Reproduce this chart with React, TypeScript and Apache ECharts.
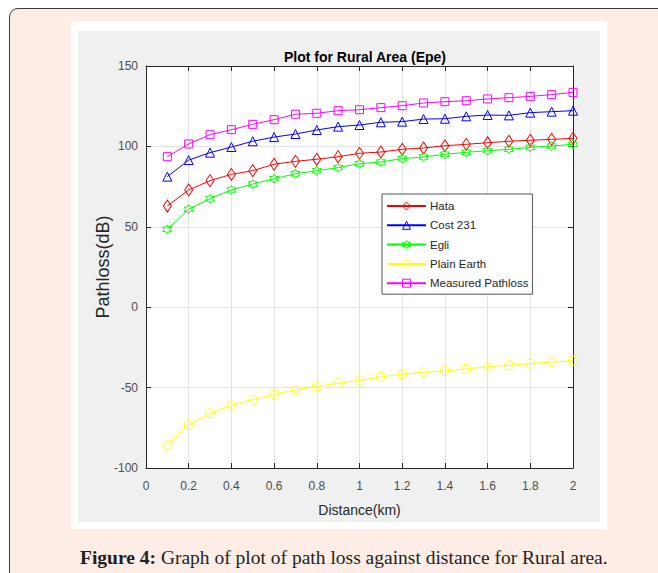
import React, { useEffect, useRef } from "react";
import * as echarts from "echarts";

const distances = [0.1, 0.2, 0.3, 0.4, 0.5, 0.6, 0.7, 0.8, 0.9, 1.0, 1.1, 1.2, 1.3, 1.4, 1.5, 1.6, 1.7, 1.8, 1.9, 2.0];
const hata = [62.9, 72.9, 78.7, 82.6, 84.9, 88.9, 90.7, 92.0, 93.6, 95.7, 96.5, 98.2, 99.0, 100.4, 101.3, 102.3, 103.2, 103.8, 104.4, 105.0];
const cost231 = [81.2, 91.5, 96.1, 99.6, 103.2, 105.8, 107.7, 110.2, 112.3, 113.3, 115.0, 115.4, 117.0, 117.2, 118.7, 119.5, 119.3, 121.0, 121.6, 122.2];
const egli = [48.4, 60.9, 67.5, 72.9, 76.6, 79.9, 83.0, 84.9, 86.8, 89.2, 90.3, 92.4, 93.4, 95.1, 96.3, 97.3, 98.2, 99.4, 100.2, 101.3];
const plainEarth = [-85.9, -73.3, -66.0, -61.0, -57.5, -54.2, -51.5, -49.2, -47.3, -45.5, -43.4, -41.7, -40.5, -39.7, -38.4, -37.0, -36.1, -35.1, -34.1, -33.3];
const measured = [93.6, 101.5, 107.3, 110.4, 113.7, 116.6, 120.0, 120.6, 122.2, 122.8, 124.1, 125.3, 127.0, 127.8, 128.4, 129.5, 130.3, 131.1, 132.2, 133.6];

const seriesNames = ["Hata", "Cost 231", "Egli", "Plain Earth", "Measured Pathloss"];
const seriesValues = [hata, cost231, egli, plainEarth, measured];
const seriesColors = ["#ff0000", "#0000ff", "#00ff00", "#ffff00", "#ff00ff"];
const hexagram = "path://M10 0L12.89 5L18.66 5L15.77 10L18.66 15L12.89 15L10 20L7.11 15L1.34 15L4.23 10L1.34 5L7.11 5Z";
const seriesSymbols = ["diamond", "triangle", hexagram, "circle", "rect"];
const seriesSymbolSizes: any[] = [[8, 12], [9, 9], [9, 9], [9, 9], [8, 8]];

const title = "Plot for Rural Area (Epe)";
const xName = "Distance(km)";
const yName = "Pathloss(dB)";
const caption = "Graph of plot of path loss against distance for Rural area.";

const FONT = "'Liberation Sans', Arial, sans-serif";

export default function App() {
  const ref = useRef<HTMLDivElement>(null);
  useEffect(() => {
    if (!ref.current) return;
    const chart = echarts.init(ref.current, null, { renderer: "svg" });
    const axisCommon = {
      type: "value" as const,
      axisLine: { show: true, onZero: false, lineStyle: { color: "#262626", width: 1 } },
      axisTick: { show: true, inside: true, length: 5, lineStyle: { color: "#262626" } },
    };
    chart.setOption({
      animation: false,
      backgroundColor: "transparent",
      title: {
        text: title,
        left: 360,
        textAlign: "center",
        top: 45,
        textStyle: { fontFamily: FONT, fontSize: 14, fontWeight: "bold", color: "#000" },
      },
      grid: {
        left: 146,
        top: 66,
        width: 427,
        height: 402,
        show: true,
        backgroundColor: "#ffffff",
        borderWidth: 0,
      },
      legend: {
        orient: "vertical",
        left: 382,
        top: 194,
        backgroundColor: "#ffffff",
        borderColor: "#555555",
        borderWidth: 1,
        borderRadius: 0,
        padding: [5, 4, 4, 4],
        itemWidth: 39,
        itemHeight: 10,
        itemGap: 5.3,
        data: seriesNames.map((name, i) => ({
          name,
          itemStyle: { color: "rgba(255,255,255,0)", borderColor: seriesColors[i], borderWidth: 1 },
        })),
        textStyle: { fontFamily: FONT, fontSize: 11.5, lineHeight: 14, color: "#262626", padding: [0, 0, 0, -1] },
      },
      xAxis: [
        {
          ...axisCommon,
          min: 0,
          max: 2,
          interval: 0.2,
          position: "bottom",
          axisLabel: {
            fontFamily: FONT,
            fontSize: 12,
            color: "#4d4d4d",
            margin: 12,
            formatter: (v: number) => String(Math.round(v * 10) / 10),
          },
          splitLine: { show: true, lineStyle: { color: "#e3e3e3", width: 1 } },
        },
        {
          ...axisCommon,
          min: 0,
          max: 2,
          interval: 0.2,
          position: "top",
          axisLabel: { show: false },
          splitLine: { show: false },
        },
      ],
      yAxis: [
        {
          ...axisCommon,
          min: -100,
          max: 150,
          interval: 50,
          position: "left",
          axisLabel: { fontFamily: FONT, fontSize: 12, color: "#4d4d4d", margin: 8 },
          splitLine: { show: true, lineStyle: { color: "#e3e3e3", width: 1 } },
        },
        {
          ...axisCommon,
          min: -100,
          max: 150,
          interval: 50,
          position: "right",
          axisLabel: { show: false },
          splitLine: { show: false },
        },
      ],
      series: seriesNames.map((name, i) => ({
        name,
        type: "line",
        xAxisIndex: 0,
        yAxisIndex: 0,
        data: distances.map((d, j) => [d, seriesValues[i][j]]),
        symbol: seriesSymbols[i],
        symbolSize: seriesSymbolSizes[i],
        showAllSymbol: true,
        lineStyle: { color: seriesColors[i], width: 1 },
        itemStyle: { color: "rgba(255,255,255,0)", borderColor: seriesColors[i], borderWidth: 1 },
        emphasis: { disabled: true },
      })),
      graphic: [
        {
          type: "text",
          x: 359.5,
          y: 510,
          style: {
            text: xName,
            fill: "#262626",
            font: "14px 'Liberation Sans', Arial, sans-serif",
            textAlign: "center",
            textVerticalAlign: "middle",
          },
        },
        {
          type: "text",
          x: 103,
          y: 267,
          rotation: Math.PI / 2,
          style: {
            text: yName,
            fill: "#262626",
            font: "18px 'Liberation Sans', Arial, sans-serif",
            textAlign: "center",
            textVerticalAlign: "middle",
          },
        },
        {
          type: "text",
          left: 80,
          top: 547,
          style: {
            text: "{b|Figure 4:} " + caption,
            fill: "#231f20",
            font: "19.5px 'Liberation Serif', 'DejaVu Serif', serif",
            rich: {
              b: { fontWeight: "bold", fontSize: 19.5, fontFamily: "'Liberation Serif', serif", fill: "#231f20" },
            },
          },
        },
      ],
    });
    return () => chart.dispose();
  }, []);

  return (
    <div style={{ position: "fixed", left: 0, top: 0, width: 658, height: 573, overflow: "hidden", background: "#ffffff" }}>
      <div
        style={{
          position: "absolute",
          left: 9,
          top: 8,
          width: 720,
          height: 720,
          border: "1.5px solid #3a3a3a",
          borderRadius: 9,
          background: "#fdede6",
        }}
      />
      <div style={{ position: "absolute", left: 71, top: 21, width: 536, height: 508, background: "#ffffff" }} />
      <div style={{ position: "absolute", left: 78, top: 31, width: 522, height: 491, background: "#f0f0f0" }} />
      <div ref={ref} style={{ position: "absolute", left: 0, top: 0, width: 658, height: 573 }} />
    </div>
  );
}
